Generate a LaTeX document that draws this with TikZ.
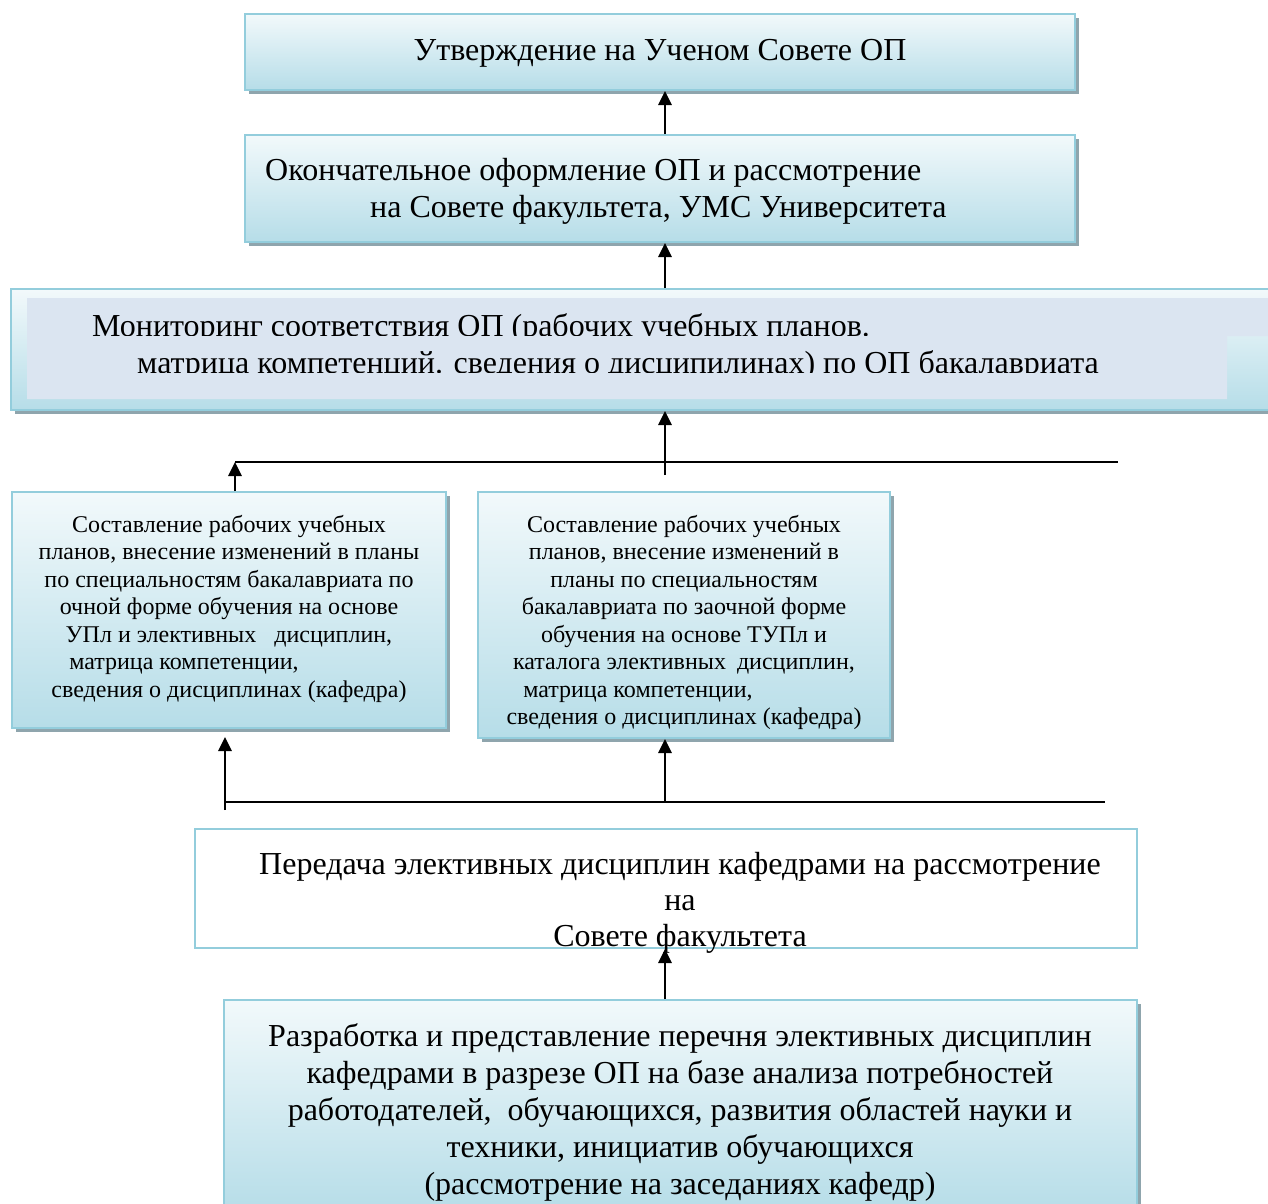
\documentclass[tikz,border=0pt]{standalone}
\usepackage{fontspec}
\setmainfont{Liberation Serif}
\usetikzlibrary{arrows.meta}
\definecolor{gtop}{HTML}{F2F9FB}
\definecolor{gbot}{HTML}{B6DDE8}
\definecolor{bordc}{HTML}{93CDDC}
\definecolor{shadc}{HTML}{8FA5AD}
\definecolor{monfill}{HTML}{DBE5F1}
\begin{document}
\begin{tikzpicture}[x=1pt,y=-1pt,
  gbox/.style={draw=bordc, line width=2pt, top color=gtop, bottom color=gbot, rectangle, inner sep=0pt},
  wbox/.style={draw=bordc, line width=2pt, fill=white, rectangle, inner sep=0pt},
  shadowbox/.style={fill=shadc, draw=none, rectangle, inner sep=0pt},
  conn/.style={line width=2.7pt, draw=black},
  arr/.style={conn, -{Triangle[length=14pt,width=13pt]}},
  bigtxt/.style={font=\fontsize{32}{37}\selectfont, inner sep=0pt},
  smalltxt/.style={font=\fontsize{24}{27.5}\selectfont, align=center, inner sep=0pt}]
\useasboundingbox (0,0) rectangle (1268,1203);
\fill[white] (0,0) rectangle (1268,1203);

% shadows
\node[shadowbox, minimum width=830pt, minimum height=76pt] (s1) at (664,56) {};
\node[shadowbox, minimum width=830pt, minimum height=107pt] (s2) at (664,192.5) {};
\node[shadowbox, minimum width=1269pt, minimum height=121pt] (s3) at (649.5,353.5) {};
\node[shadowbox, minimum width=434pt, minimum height=236pt] (s4) at (233,614) {};
\node[shadowbox, minimum width=412pt, minimum height=246pt] (s5) at (688,619) {};
\node[shadowbox, minimum width=913pt, minimum height=212pt] (s6) at (684.5,1110) {};

% boxes
\node[gbox, minimum width=830pt, minimum height=76pt] (b1) at (660,52) {};
\node[gbox, minimum width=830pt, minimum height=107pt] (b2) at (660,188.5) {};
\node[gbox, minimum width=1269pt, minimum height=121pt] (mon) at (645.5,349.5) {};
\fill[monfill] (27,298) -- (1268,298) -- (1268,336) -- (1227,336) -- (1227,399) -- (27,399) -- cycle;
\node[gbox, minimum width=434pt, minimum height=236pt] (bl) at (229,610) {};
\node[gbox, minimum width=412pt, minimum height=246pt] (br) at (684,615) {};
\node[wbox, minimum width=942pt, minimum height=119pt] (b5) at (666,888.5) {};
\node[gbox, minimum width=913pt, minimum height=212pt] (b6) at (680.5,1106) {};

% texts
\node[bigtxt, anchor=base] (t1) at (660,60) {Утверждение на Ученом Совете ОП};
\node[bigtxt, anchor=base west] (t2a) at (265,180) {Окончательное оформление ОП и рассмотрение};
\node[bigtxt, anchor=base west] (t2b) at (370,217) {на Совете факультета, УМС Университета};
\begin{scope}
  \clip (0,290) rectangle (1268,335);
  \node[bigtxt, anchor=base west] (t3a) at (92,336) {Мониторинг соответствия ОП (рабочих учебных планов.};
\end{scope}
\begin{scope}
  \clip (0,340) rectangle (1268,372);
  \node[bigtxt, anchor=base west] (t3b) at (137,373) {матрица компетенций. сведения о дисципилинах) по ОП бакалавриата};
\end{scope}
\node[smalltxt, anchor=base] (tl) at (229,697) {Составление рабочих учебных\\
  планов, внесение изменений в планы\\
  по специальностям бакалавриата по\\
  очной форме обучения на основе\\
  УПл и элективных\hspace*{12pt} дисциплин,\\
  матрица компетенции,\rule{90pt}{0pt}\\
  сведения о дисциплинах (кафедра)};
\node[smalltxt, anchor=base] (tr) at (684,724.5) {Составление рабочих учебных\\
  планов, внесение изменений в\\
  планы по специальностям\\
  бакалавриата по заочной форме\\
  обучения на основе ТУПл и\\
  каталога элективных\hspace*{5pt} дисциплин,\\
  матрица компетенции,\rule{92pt}{0pt}\\
  сведения о дисциплинах (кафедра)};
\node[bigtxt, align=center, anchor=base, font=\fontsize{32}{36}\selectfont] (t5) at (680,946) {Передача элективных дисциплин кафедрами на рассмотрение\\ на\\ Совете факультета};
\node[bigtxt, align=center, anchor=base] (t6) at (680,1194) {Разработка и представление перечня элективных дисциплин\\
  кафедрами в разрезе ОП на базе анализа потребностей\\
  работодателей,\ \ обучающихся, развития областей науки и\\
  техники, инициатив обучающихся\\
  (рассмотрение на заседаниях кафедр)};

% connectors
\coordinate (cx) at (665,0);
\coordinate (busUL) at (235,462);
\coordinate (busUR) at (1118,462);
\coordinate (busUT) at (665,475);
\coordinate (busLL) at (225,802);
\coordinate (busLR) at (1105,802);
\coordinate (busLB) at (225,810);
\coordinate (tipL) at (225,737);
\draw[arr] (b2.north -| cx) -- (b1.south -| cx);
\draw[arr] (mon.north -| cx) -- (b2.south -| cx);
\draw[conn] (busUL) -- (busUR);
\draw[arr] (busUT) -- (mon.south -| cx);
\draw[arr] (bl.north -| busUL) -- (busUL);
\draw[conn] (busLL) -- (busLR);
\draw[arr] (busLB) -- (tipL);
\draw[arr] (busLR -| cx) -- (br.south -| cx);
\draw[arr] (b6.north -| cx) -- (b5.south -| cx);
\end{tikzpicture}
\end{document}
